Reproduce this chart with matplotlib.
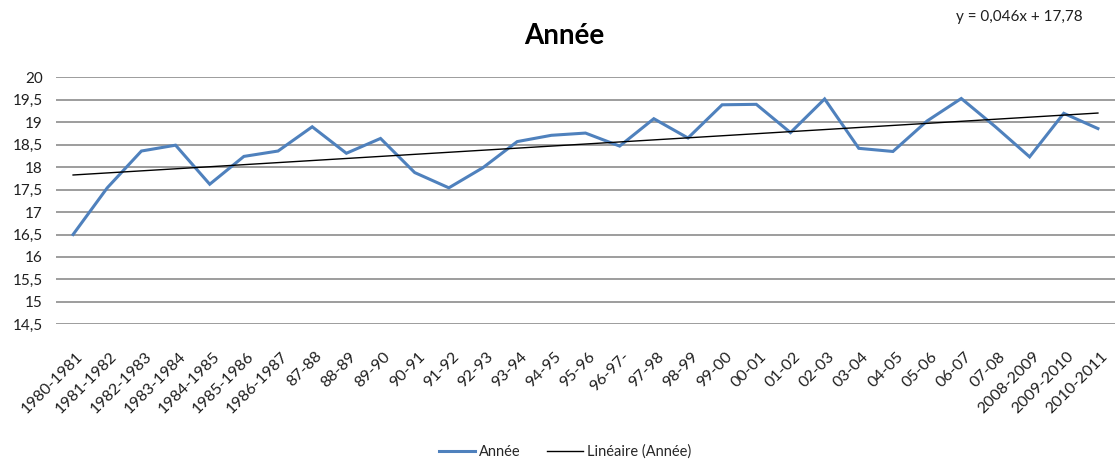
import numpy as np
import matplotlib
matplotlib.use("Agg")
from matplotlib import pyplot as plt
from matplotlib.transforms import ScaledTranslation

plt.rcParams['font.family'] = ['Lato', 'DejaVu Sans']

seasons = ["1980-1981", "1981-1982", "1982-1983", "1983-1984", "1984-1985", "1985-1986",
           "1986-1987", "87-88", "88-89", "89-90", "90-91", "91-92", "92-93", "93-94",
           "94-95", "95-96", "96-97-", "97-98", "98-99", "99-00", "00-01", "01-02", "02-03",
           "03-04", "04-05", "05-06", "06-07", "07-08", "2008-2009", "2009-2010", "2010-2011"]
annee = [16.50, 17.54, 18.36, 18.49, 17.62, 18.24, 18.36, 18.90, 18.31, 18.64, 17.88,
         17.54, 17.99, 18.57, 18.71, 18.76, 18.47, 19.08, 18.65, 19.39, 19.40, 18.77,
         19.52, 18.42, 18.35, 19.03, 19.53, 18.90, 18.23, 19.20, 18.86]
# trend line given on the chart: y = 0,046x + 17,78
slope = 0.046
intercept = 17.78
yticks = [14.5, 15, 15.5, 16, 16.5, 17, 17.5, 18, 18.5, 19, 19.5, 20]

fig = plt.figure(figsize=(11.15, 4.63), dpi=100)
ax = fig.add_axes([56 / 1115, 138.7 / 463, 1 - 56 / 1115, 246.9 / 463])

x = np.arange(len(seasons))
trend = slope * (x + 1) + intercept

ax.plot(x, annee, color='#4F81BD', lw=2.2, label='Année', zorder=3, solid_joinstyle='miter')
ax.plot(x, trend, color='black', lw=1.0, label='Linéaire (Année)', zorder=4)

ax.set_xlim(-0.5, len(seasons) - 0.5)
ax.set_ylim(14.5, 20)
ax.set_yticks(yticks)
ax.set_yticklabels([("%g" % v).replace('.', ',') for v in yticks])
ax.yaxis.grid(True, color='#8c8c8c', lw=1.2)
ax.set_axisbelow(True)
for s in ax.spines.values():
    s.set_visible(False)

ax.set_xticks(x)
ax.set_xticklabels(seasons, rotation=45, ha='right', va='top', rotation_mode='anchor')
ax.tick_params(axis='x', length=0, pad=18, labelsize=11.5, labelcolor='#1f1f1f')
ax.tick_params(axis='y', length=0, pad=9.5, labelsize=11, labelcolor='#1f1f1f')
off = ScaledTranslation(3 / 100, 0, fig.dpi_scale_trans)
for lab in ax.get_xticklabels():
    lab.set_transform(lab.get_transform() + off)

fig.text(564 / 1115, 1 - 36 / 463, 'Année', ha='center', va='center',
         fontsize=20, fontweight='bold', color='black')
fig.text(1083 / 1115, 1 - 17 / 463, 'y = 0,046x + 17,78', ha='right', va='center',
         fontsize=11, color='#1f1f1f')

fig.legend(loc='center', bbox_to_anchor=(565 / 1115, 1 - 452 / 463), ncol=2, frameon=False,
           fontsize=10.5, handlelength=2.5, handletextpad=0.25, columnspacing=1.8,
           labelcolor='#262626')

fig.savefig('out.png', dpi=100)
